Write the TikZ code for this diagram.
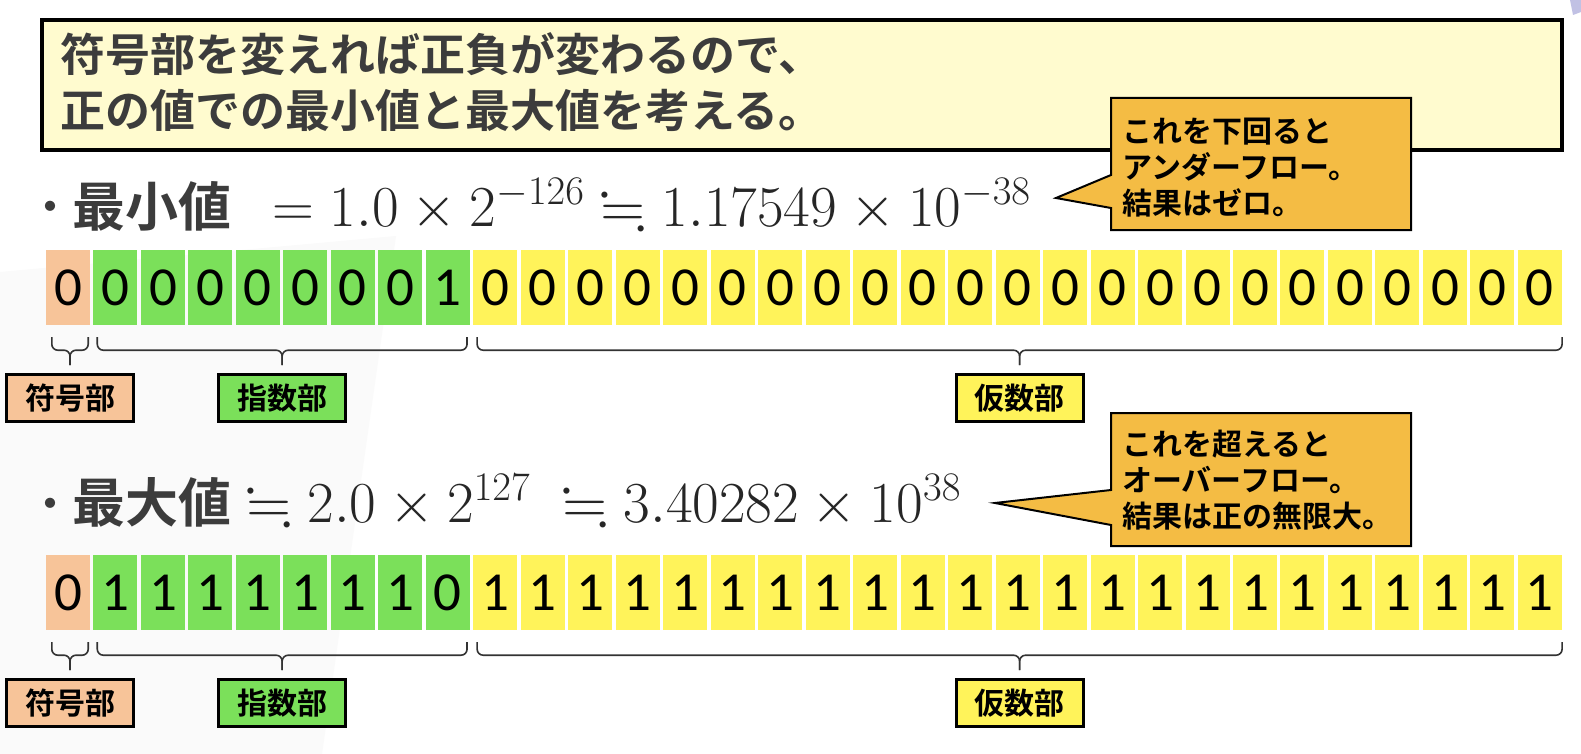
\RequirePackage{fix-cm}
\documentclass[tikz,border=0pt]{standalone}
\usepackage{amssymb}
\usepackage{fontspec}
\newfontfamily\jpfont{Noto Sans CJK JP}[BoldFont={Noto Sans CJK JP Bold}]
\newfontfamily\digitfont{Carlito}
\usetikzlibrary{calc,positioning}

\definecolor{bannerc}{HTML}{FFFBCF}
\definecolor{signc}{HTML}{F7C499}
\definecolor{expc}{HTML}{7BE05A}
\definecolor{mantc}{HTML}{FFF35A}
\definecolor{notec}{HTML}{F4BC44}
\definecolor{inkc}{HTML}{3C3C3C}

\tikzset{
  cell/.style={minimum width=44pt, minimum height=75pt, inner sep=0pt, font=\digitfont\fontsize{55}{60}\selectfont},
  signcell/.style={cell, fill=signc},
  expcell/.style={cell, fill=expc},
  mantcell/.style={cell, fill=mantc},
  tag/.style={draw=black, line width=3pt, minimum width=127pt, minimum height=47pt, inner sep=0pt, font=\jpfont\bfseries\fontsize{30}{30}\selectfont},
  bracestyle/.style={line width=1.6pt, draw=black!80, rounded corners=6pt},
  note/.style={draw=black, line width=2pt, fill=notec},
  notetext/.style={anchor=west, align=left, inner sep=0pt, font=\jpfont\bfseries\fontsize{30}{36}\selectfont},
  value/.style={anchor=base west, inner sep=0pt, text=inkc, font=\jpfont\bfseries\fontsize{53}{60}\selectfont},
  bullet/.style={anchor=base, inner sep=0pt, text=inkc, font=\jpfont\bfseries\fontsize{40}{40}\selectfont},
  formula/.style={anchor=base west, inner sep=0pt, text=black!85, font=\fontsize{58}{64}\selectfont},
}

% brace under a group of bits: left end, right end, name of the tip
\newcommand{\bitbrace}[3]{%
  \coordinate (#3) at ($(#1)!.5!(#2)+(0,28)$);
  \draw[bracestyle] (#1) -- ++(0,13) -- ($(#1)!.5!(#2)+(0,13)$) -- (#3);
  \draw[bracestyle] (#2) -- ++(0,13) -- ($(#1)!.5!(#2)+(0,13)$) -- (#3);}

\begin{document}
\begin{tikzpicture}[x=1pt, y=-1pt]
  \useasboundingbox (0,0) rectangle (1581,754);
  \fill[white] (0,0) rectangle (1581,754);

  % faint backdrop
  \fill[black!2] (0,272) -- (396,236) -- (322,754) -- (0,754) -- cycle;
  \fill[blue!40!gray!35] (1570,0) -- (1581,0) -- (1581,12) -- (1573,15) -- cycle;

  % banner
  \draw[line width=3.5pt, fill=bannerc] (42,20) rectangle (1562,150);
  \node[anchor=west, align=left, inner sep=0pt, text=inkc, font=\jpfont\bfseries\fontsize{45}{56}\selectfont] (head) at (60,82)
    {符号部を変えれば正負が変わるので、\\正の値での最小値と最大値を考える。};

  % smallest value
  \node[bullet] (dot1) at (50,222) {・};
  \node[value] (min) at (72,226) {最小値};
  \node[formula] (minf) at (272,226) {$= 1.0 \times 2^{-126} \fallingdotseq 1.17549 \times 10^{-38}$};

  \draw[note] (1111,98) -- (1411,98) -- (1411,230) -- (1111,230) -- (1111,208) -- (1056,198) -- (1111,175) -- cycle;
  \node[notetext] (under) at (1122,168) {これを下回ると\\アンダーフロー。\\結果はゼロ。};

  \foreach \b [count=\i from 0] in {0, 0,0,0,0,0,0,0,1, 0,0,0,0,0,0,0,0,0,0,0,0,0,0,0,0,0,0,0,0,0,0,0}{
    \ifnum\i=0 \def\kind{signcell}\else\ifnum\i<9 \def\kind{expcell}\else\def\kind{mantcell}\fi\fi
    \node[\kind] (a\i) at ({68+47.48*\i},287.5) {\b};
  }

  % largest value
  \node[bullet] (dot2) at (50,518) {・};
  \node[value] (max) at (72,522) {最大値};
  \node[formula] (maxf) at (246,522) {$\fallingdotseq 2.0 \times 2^{127}\; \fallingdotseq 3.40282 \times 10^{38}$};

  \draw[note] (1111,413) -- (1411,413) -- (1411,546) -- (1111,546) -- (1111,525) -- (995,503) -- (1111,490) -- cycle;
  \node[notetext] (over) at (1122,480) {これを超えると\\オーバーフロー。\\結果は正の無限大。};

  \foreach \b [count=\i from 0] in {0, 1,1,1,1,1,1,1,0, 1,1,1,1,1,1,1,1,1,1,1,1,1,1,1,1,1,1,1,1,1,1,1}{
    \ifnum\i=0 \def\kind{signcell}\else\ifnum\i<9 \def\kind{expcell}\else\def\kind{mantcell}\fi\fi
    \node[\kind] (b\i) at ({68+47.48*\i},592.5) {\b};
  }

  % braces and part names
  \foreach \r in {a,b}{
    \coordinate (\r-s-l) at ($(\r0.south west)+(6,12)$);
    \coordinate (\r-s-r) at ($(\r0.south east)+(-2,12)$);
    \coordinate (\r-e-l) at ($(\r1.south west)+(4,12)$);
    \coordinate (\r-e-r) at ($(\r8.south east)+(-3,12)$);
    \coordinate (\r-m-l) at ($(\r9.south west)+(4,12)$);
    \coordinate (\r-m-r) at ($(\r31.south east)+(0,12)$);
    \bitbrace{\r-s-l}{\r-s-r}{\r-s-t}
    \bitbrace{\r-e-l}{\r-e-r}{\r-e-t}
    \bitbrace{\r-m-l}{\r-m-r}{\r-m-t}
    \node[tag, fill=signc, below=8pt of \r-s-t] (\r-sign) {符号部};
    \node[tag, fill=expc, below=8pt of \r-e-t] (\r-exp) {指数部};
    \node[tag, fill=mantc, below=8pt of \r-m-t] (\r-mant) {仮数部};
  }
\end{tikzpicture}
\end{document}
